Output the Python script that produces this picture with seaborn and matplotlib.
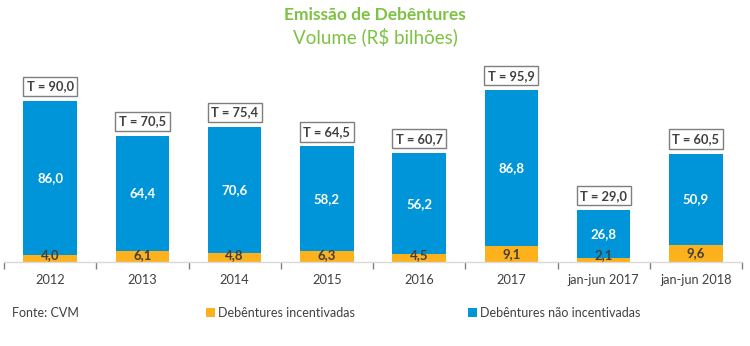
import matplotlib
matplotlib.use("Agg")
import matplotlib.pyplot as plt
from matplotlib.patches import Patch
import seaborn as sns
import pandas as pd

categories = ["2012", "2013", "2014", "2015", "2016", "2017", "jan-jun 2017", "jan-jun 2018"]
incentivadas = [4.0, 6.1, 4.8, 6.3, 4.5, 9.1, 2.1, 9.6]
nao_incentivadas = [86.0, 64.4, 70.6, 58.2, 56.2, 86.8, 26.8, 50.9]
totais = [90.0, 70.5, 75.4, 64.5, 60.7, 95.9, 29.0, 60.5]

BLUE = "#0095D9"
ORANGE = "#FDB11D"
GREEN = "#7DC242"
DARK = "#404040"

sns.set_theme(style="white")
plt.rcParams["font.family"] = ["Lato", "DejaVu Sans"]

df = pd.DataFrame({
    "categoria": categories,
    "incent": incentivadas,
    "nao": nao_incentivadas,
})
df["topo"] = df["incent"] + df["nao"]

fig = plt.figure(figsize=(7.5, 3.46), dpi=100)
ax = fig.add_axes([4 / 750, (346 - 262) / 346, 738 / 750, 197 / 346])

sns.barplot(data=df, x="categoria", y="topo", color=BLUE, width=0.58,
            saturation=1, ax=ax, linewidth=0)
sns.barplot(data=df, x="categoria", y="incent", color=ORANGE, width=0.58,
            saturation=1, ax=ax, linewidth=0)

ax.set_xlim(-0.5, len(categories) - 0.5)
ax.set_ylim(0, 110)
ax.set_xlabel("")
ax.set_ylabel("")
ax.set_yticks([])
for side in ["top", "left", "right"]:
    ax.spines[side].set_visible(False)
ax.spines["bottom"].set_color("#D9D9D9")
ax.spines["bottom"].set_linewidth(1)

ax.set_xticks(range(len(categories)))
ax.set_xticklabels(categories, fontsize=9.2, color=DARK)
ax.tick_params(axis="x", which="major", length=0, pad=9)
ax.set_xticks([i - 0.5 for i in range(len(categories) + 1)], minor=True)
ax.tick_params(axis="x", which="minor", length=5, width=1, color="#808080",
               direction="out", bottom=True)

for i, (inc, nao, tot) in enumerate(zip(incentivadas, nao_incentivadas, totais)):
    ax.text(i, inc + nao / 2, f"{nao:.1f}".replace(".", ","), ha="center",
            va="center", color="white", fontsize=9.5, fontweight="bold")
    ax.text(i, max(inc / 2, 3.7), f"{inc:.1f}".replace(".", ","), ha="center",
            va="center", color=DARK, fontsize=9.5, fontweight="bold")
    ax.annotate(f"T = {tot:.1f}".replace(".", ","), xy=(i, inc + nao),
                xytext=(0, 10.5), textcoords="offset points", ha="center",
                va="center", color=DARK, fontsize=9.3, fontweight="bold",
                bbox=dict(boxstyle="square,pad=0.28", fc="white",
                          ec="#7F7F7F", lw=1))

fig.text(0.5, 1 - 15 / 346, "Emissão de Debêntures", ha="center", va="center",
         color=GREEN, fontsize=12.5, fontweight="bold")
fig.text(0.5, 1 - 37 / 346, "Volume (R$ bilhões)", ha="center", va="center",
         color=GREEN, fontsize=13.5)

fig.text(12 / 750, 1 - 313 / 346, "Fonte: CVM", ha="left", va="center",
         color=DARK, fontsize=9)

for x0, label, col in [(206, "Debêntures incentivadas", ORANGE),
                       (468, "Debêntures não incentivadas", BLUE)]:
    fig.legend(handles=[Patch(facecolor=col, edgecolor="none", label=label)],
               loc="center left", bbox_to_anchor=(x0 / 750, 1 - 313 / 346),
               frameon=False, fontsize=9, handlelength=0.7, handleheight=0.7,
               handletextpad=0.25, borderpad=0, borderaxespad=0,
               labelcolor=DARK)

fig.savefig("out.png", dpi=100)
